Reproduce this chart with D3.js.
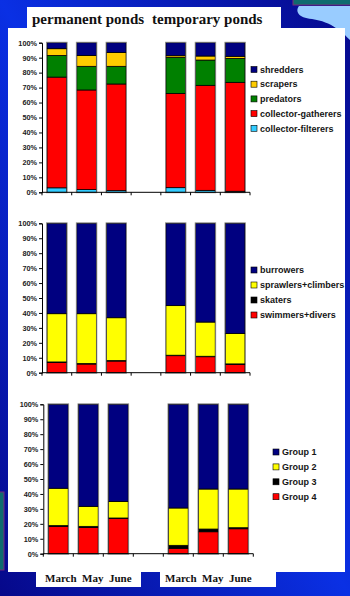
<!DOCTYPE html>
<html>
<head>
<meta charset="utf-8">
<script src="https://cdn.jsdelivr.net/npm/d3@7"></script>
<style>
  html, body { margin: 0; padding: 0; background: #0a1ec8; }
  svg { display: block; }
</style>
</head>
<body>
<svg id="chart" width="350" height="596"></svg>
<script>
// ---- data -------------------------------------------------------------
// Seven slots on the x axis: three permanent-pond months, an empty gap, three temporary-pond months
const slots = ["p-March", "p-May", "p-June", "gap", "t-March", "t-May", "t-June"];
const months = ["March", "May", "June"];
const yTicks = [0, 10, 20, 30, 40, 50, 60, 70, 80, 90, 100];

// Panel 1: functional feeding groups (%), bottom to top
const feedingSeries = ["collector-filterers", "collector-gatherers", "predators", "scrapers", "shredders"];
const collectorFilterers = [3.0, 1.8, 1.1, 0, 3.1, 1.3, 0.7];
const collectorGatherers = [74.0, 66.6, 71.3, 0, 63.0, 70.2, 72.8];
const predators          = [14.5, 15.8, 11.8, 0, 24.1, 16.9, 16.0];
const scrapers           = [4.5, 7.3, 9.3, 0, 1.1, 2.7, 1.4];
const shredders          = [4.0, 8.5, 6.5, 0, 8.7, 8.9, 9.1];
const feedingColors = ["#33ccff", "#ff0000", "#008000", "#ffcc00", "#000080"];

// Panel 2: habit groups (%), bottom to top
const habitSeries = ["swimmers+divers", "skaters", "sprawlers+climbers", "burrowers"];
const swimmersDivers     = [6.9, 5.8, 7.8, 0, 11.4, 10.7, 5.6];
const skaters            = [0.3, 0.3, 0.3, 0, 0.3, 0.3, 0.3];
const sprawlersClimbers  = [32.3, 33.4, 28.7, 0, 33.2, 22.9, 20.4];
const burrowers          = [60.5, 60.5, 63.2, 0, 55.1, 66.1, 73.7];
const habitColors = ["#ff0000", "#000000", "#ffff00", "#000080"];

// Panel 3: groups (%), bottom to top
const groupSeries = ["Group 4", "Group 3", "Group 2", "Group 1"];
const group4 = [18.3, 17.6, 23.7, 0, 3.6, 14.7, 16.7];
const group3 = [0.5, 0.7, 0.2, 0, 2.0, 1.8, 0.7];
const group2 = [25.0, 13.4, 11.1, 0, 25.0, 26.8, 25.9];
const group1 = [56.2, 68.3, 65.0, 0, 69.4, 56.7, 56.7];
const groupColors = ["#ff0000", "#000000", "#ffff00", "#000080"];

// ---- drawing ----------------------------------------------------------
const svg = d3.select("#chart");
const defs = svg.append("defs");

// slide background: bright along the main diagonal, darker toward the other corners
const bg = defs.append("linearGradient").attr("id", "bg")
  .attr("x1", 1).attr("y1", 0).attr("x2", 0).attr("y2", 1);
bg.append("stop").attr("offset", 0).attr("stop-color", "#06088a");
bg.append("stop").attr("offset", 0.5).attr("stop-color", "#0a30e4");
bg.append("stop").attr("offset", 1).attr("stop-color", "#06088a");
svg.append("rect").attr("width", 350).attr("height", 596).attr("fill", "url(#bg)");

// corner decorations
svg.append("path")
  .attr("d", "M299,6 L350,6 L350,40 C342,32 332,22 312,19 C298,18 295,11 299,6 Z")
  .attr("fill", "#99ccff");
svg.append("rect").attr("x", 293).attr("y", -3).attr("width", 60).attr("height", 8)
  .attr("fill", "#0f6b6e").attr("stroke", "#7a2a7a").attr("stroke-width", 1);
svg.append("rect").attr("x", -3).attr("y", 492).attr("width", 7).attr("height", 78)
  .attr("fill", "#0f6b6e").attr("stroke", "#7a2a7a").attr("stroke-width", 1);

// white panels
svg.append("rect").attr("x", 27).attr("y", 7).attr("width", 254).attr("height", 22).attr("fill", "#fff");
svg.append("rect").attr("x", 8).attr("y", 28).attr("width", 337).attr("height", 544).attr("fill", "#fff");
svg.append("rect").attr("x", 36).attr("y", 571).attr("width", 105).attr("height", 16).attr("fill", "#fff");
svg.append("rect").attr("x", 160).attr("y", 571).attr("width", 116).attr("height", 16).attr("fill", "#fff");

// title
const titleFont = "'Liberation Serif', 'Times New Roman', serif";
svg.append("text").attr("x", 32).attr("y", 24).text("permanent ponds")
  .attr("font-family", titleFont).attr("font-weight", "bold").attr("font-size", 15).attr("fill", "#111");
svg.append("text").attr("x", 152).attr("y", 24).text("temporary ponds")
  .attr("font-family", titleFont).attr("font-weight", "bold").attr("font-size", 15).attr("fill", "#111");

const sans = "'Liberation Sans', Arial, sans-serif";

function panel(cfg) {
  const { series, arrays, colors, x0, x1, yTop, yBottom, legendX, legendY, legendStep } = cfg;
  const rows = slots.map((s, i) => {
    const r = { slot: s };
    series.forEach((name, k) => { r[name] = arrays[k][i]; });
    return r;
  });
  const stacked = d3.stack().keys(series)(rows);

  const x = d3.scaleBand().domain(slots).range([x0, x1]).paddingInner(0.34).paddingOuter(0.17);
  const y = d3.scaleLinear().domain([0, 100]).range([yBottom, yTop]);
  const color = d3.scaleOrdinal().domain(series).range(colors);

  const g = svg.append("g");

  // stacked bars
  const drawn = rows.filter(r => r.slot !== "gap");
  g.selectAll("g.layer").data(stacked).join("g").attr("class", "layer")
    .attr("fill", d => color(d.key))
    .selectAll("rect").data(d => d.filter(p => p.data.slot !== "gap")).join("rect")
    .attr("x", d => x(d.data.slot))
    .attr("width", x.bandwidth())
    .attr("y", d => y(d[1]))
    .attr("height", d => Math.max(0, y(d[0]) - y(d[1])))
    .attr("stroke", "#000").attr("stroke-width", 0.8);

  // soft grey outline around each whole bar
  g.selectAll("rect.outline").data(drawn).join("rect").attr("class", "outline")
    .attr("x", d => x(d.slot) - 0.5)
    .attr("width", x.bandwidth() + 1)
    .attr("y", y(100) - 0.5)
    .attr("height", y(0) - y(100) + 1)
    .attr("fill", "none").attr("stroke", "#8a8a8a").attr("stroke-width", 0.8);

  // y axis
  const yAxis = d3.axisLeft(y).tickValues(yTicks).tickSize(3).tickPadding(2)
    .tickFormat(d => d + "%");
  const ya = g.append("g").attr("transform", `translate(${x0},0)`).call(yAxis);
  ya.select(".domain").attr("stroke", "#000");
  ya.selectAll(".tick line").attr("stroke", "#000");
  ya.selectAll(".tick text").attr("font-family", sans).attr("font-weight", "bold")
    .attr("font-size", 7.3).attr("fill", "#222");

  // x axis: baseline with ticks between categories
  g.append("line").attr("x1", x0).attr("x2", x1).attr("y1", y(0)).attr("y2", y(0))
    .attr("stroke", "#000");
  const bounds = d3.range(slots.length + 1).map(i => x0 + i * x.step());
  g.selectAll("line.xt").data(bounds).join("line").attr("class", "xt")
    .attr("x1", d => d).attr("x2", d => d)
    .attr("y1", y(0)).attr("y2", y(0) + 3).attr("stroke", "#000");

  // legend, listed top to bottom
  const legendItems = series.slice().reverse();
  const lg = g.selectAll("g.leg").data(legendItems).join("g").attr("class", "leg")
    .attr("transform", (d, i) => `translate(${legendX},${legendY + i * legendStep})`);
  lg.append("rect").attr("x", 0).attr("y", -3).attr("width", 6).attr("height", 6)
    .attr("fill", d => color(d)).attr("stroke", "#000").attr("stroke-width", 0.6);
  lg.append("text").attr("x", 9).attr("y", 3.2).text(d => d)
    .attr("font-family", sans).attr("font-weight", "bold").attr("font-size", 9).attr("fill", "#151515");

  return x;
}

panel({
  series: feedingSeries,
  arrays: [collectorFilterers, collectorGatherers, predators, scrapers, shredders],
  colors: feedingColors,
  x0: 42, x1: 250, yTop: 42.7, yBottom: 192.3,
  legendX: 251, legendY: 69.5, legendStep: 14.7
});

panel({
  series: habitSeries,
  arrays: [swimmersDivers, skaters, sprawlersClimbers, burrowers],
  colors: habitColors,
  x0: 42, x1: 250, yTop: 223.3, yBottom: 372.7,
  legendX: 251, legendY: 270, legendStep: 15
});

const x3 = panel({
  series: groupSeries,
  arrays: [group4, group3, group2, group1],
  colors: groupColors,
  x0: 43.3, x1: 253.3, yTop: 404.3, yBottom: 553.7,
  legendX: 273, legendY: 452, legendStep: 14.9
});

// month labels under both pond groups
[["p-May"], ["t-May"]].forEach(([mid]) => {
  svg.append("text")
    .attr("x", x3(mid) + x3.bandwidth() / 2)
    .attr("y", 582)
    .attr("text-anchor", "middle")
    .style("white-space", "pre")
    .text(months.join("  "))
    .attr("font-family", titleFont).attr("font-weight", "bold").attr("font-size", 11).attr("fill", "#111");
});
</script>
</body>
</html>
